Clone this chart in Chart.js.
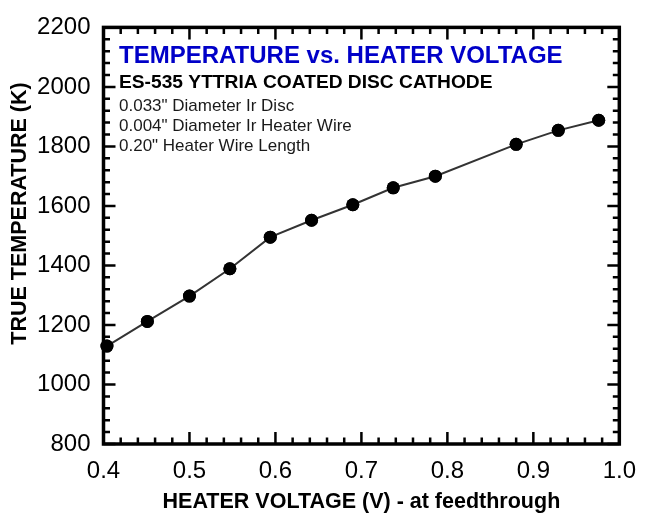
<!DOCTYPE html>
<html>
<head>
<meta charset="utf-8">
<script src="https://cdn.jsdelivr.net/npm/chart.js@4"></script>
<style>
  html, body { margin: 0; padding: 0; background: #ffffff; }
  #wrap { width: 649px; height: 517px; }
</style>
</head>
<body>
<div id="wrap"><canvas id="c" width="649" height="517"></canvas></div>
<script>
// ---- data ----
const heaterVoltage = [0.404, 0.451, 0.500, 0.547, 0.594, 0.642, 0.690, 0.737, 0.786, 0.880, 0.929, 0.976];
const trueTemperature = [1129, 1212, 1297, 1389, 1495, 1552, 1604, 1661, 1700, 1807, 1854, 1888];

const xRange = [0.4, 1.0];
const xMajorStep = 0.1;
const xMinorStep = 0.02;
const yRange = [800, 2200];
const yMajorStep = 200;
const yMinorStep = 40;

const chartTitle = "TEMPERATURE vs. HEATER VOLTAGE";
const chartSubtitle = "ES-535 YTTRIA COATED DISC CATHODE";
const noteLines = ['0.033" Diameter Ir Disc', '0.004" Diameter Ir Heater Wire', '0.20" Heater Wire Length'];
const xAxisTitle = "HEATER VOLTAGE (V) - at feedthrough";
const yAxisTitle = "TRUE TEMPERATURE (K)";

const FONT = '"Liberation Sans", Arial, Helvetica, sans-serif';

const points = heaterVoltage.map((v, i) => ({ x: v, y: trueTemperature[i] }));

function drawFrameAndTicks(chart) {
  const { ctx, chartArea: a, scales } = chart;
  const xs = scales.x, ys = scales.y;
  ctx.save();
  ctx.strokeStyle = '#000000';
  ctx.lineWidth = 2.5;
  const nx = Math.round((xRange[1] - xRange[0]) / xMinorStep);
  for (let i = 0; i <= nx; i++) {
    const v = xRange[0] + i * xMinorStep;
    const major = Math.abs(v / xMajorStep - Math.round(v / xMajorStep)) < 1e-6;
    const len = major ? 12 : 6.5;
    const px = xs.getPixelForValue(v);
    ctx.beginPath();
    ctx.moveTo(px, a.bottom); ctx.lineTo(px, a.bottom - len);
    ctx.moveTo(px, a.top); ctx.lineTo(px, a.top + len);
    ctx.stroke();
  }
  const ny = Math.round((yRange[1] - yRange[0]) / yMinorStep);
  for (let i = 0; i <= ny; i++) {
    const v = yRange[0] + i * yMinorStep;
    const major = (v % yMajorStep) === 0;
    const len = major ? 12 : 6.5;
    const py = ys.getPixelForValue(v);
    ctx.beginPath();
    ctx.moveTo(a.left, py); ctx.lineTo(a.left + len, py);
    ctx.moveTo(a.right, py); ctx.lineTo(a.right - len, py);
    ctx.stroke();
  }
  ctx.lineWidth = 3.5;
  ctx.strokeRect(a.left, a.top, a.right - a.left, a.bottom - a.top);
  ctx.restore();
}

const framePlugin = {
  id: 'frameTicks',
  afterDraw(chart) {
    const { ctx, chartArea: a } = chart;
    drawFrameAndTicks(chart);

    ctx.save();
    const tx = a.left + 15.5;
    ctx.textAlign = 'left';
    ctx.textBaseline = 'alphabetic';
    ctx.fillStyle = '#0000c8';
    ctx.font = 'bold 24px ' + FONT;
    ctx.fillText(chartTitle, tx, a.top + 36);
    ctx.fillStyle = '#000000';
    ctx.font = 'bold 19.2px ' + FONT;
    ctx.fillText(chartSubtitle, tx, a.top + 61);
    ctx.fillStyle = '#1a1a1a';
    ctx.font = '17px ' + FONT;
    noteLines.forEach((t, i) => ctx.fillText(t, tx, a.top + 84 + i * 20));

    ctx.translate(20, 213.5);
    ctx.rotate(-Math.PI / 2);
    ctx.textAlign = 'center';
    ctx.textBaseline = 'middle';
    ctx.fillStyle = '#000000';
    ctx.font = 'bold 21.5px ' + FONT;
    ctx.fillText(yAxisTitle, 0, 0);
    ctx.restore();

    // keep the markers above the frame
    chart.getDatasetMeta(0).data.forEach(el => el.draw(ctx, a));
  }
};

new Chart(document.getElementById('c'), {
  type: 'scatter',
  data: {
    datasets: [{
      data: points,
      showLine: true,
      borderColor: '#333333',
      borderWidth: 2,
      pointRadius: 6.5,
      pointHoverRadius: 6.5,
      pointBackgroundColor: '#000000',
      pointBorderColor: '#000000',
      pointBorderWidth: 0,
      clip: false
    }]
  },
  options: {
    responsive: false,
    animation: false,
    devicePixelRatio: 1,
    layout: { padding: { top: 19, right: 29.5, left: 0, bottom: 0 } },
    plugins: { legend: { display: false }, tooltip: { enabled: false }, title: { display: false } },
    scales: {
      x: {
        type: 'linear',
        min: xRange[0], max: xRange[1],
        grid: { display: false, drawTicks: false },
        border: { display: false },
        ticks: {
          stepSize: xMajorStep,
          padding: 13,
          color: '#000000',
          font: { family: FONT, size: 24 },
          callback: v => Number(v).toFixed(1)
        },
        title: {
          display: true,
          text: xAxisTitle,
          color: '#000000',
          font: { family: FONT, size: 21.5, weight: 'bold' },
          padding: { top: 0, bottom: 2 }
        },
        afterFit: s => { s.height = 73; }
      },
      y: {
        type: 'linear',
        min: yRange[0], max: yRange[1],
        grid: { display: false, drawTicks: false },
        border: { display: false },
        ticks: {
          stepSize: yMajorStep,
          padding: 13,
          color: '#000000',
          font: { family: FONT, size: 24 },
          callback: v => String(v)
        },
        afterFit: s => { s.width = 103.5; }
      }
    }
  },
  plugins: [framePlugin]
});
</script>
</body>
</html>
